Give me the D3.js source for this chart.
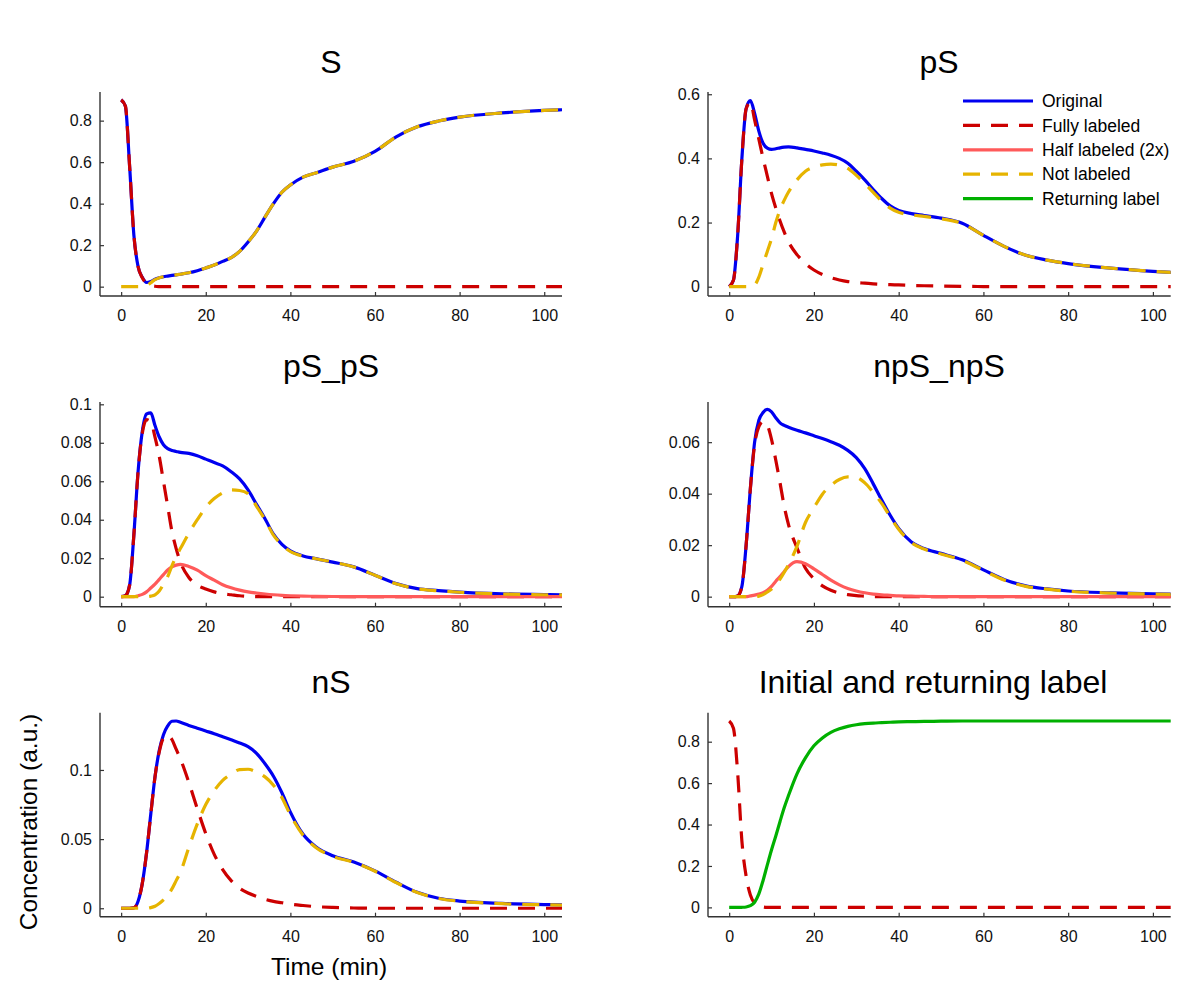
<!DOCTYPE html>
<html>
<head>
<meta charset="utf-8">
<script src="https://cdn.jsdelivr.net/npm/d3@7/dist/d3.min.js"></script>
<style>
  html, body { margin: 0; padding: 0; background: #fff; }
  svg { display: block; font-family: "Liberation Sans", Arial, Helvetica, sans-serif; }
</style>
</head>
<body>
<svg id="chart" width="1200" height="1008"></svg>
<script>
// ---------------- DATA ----------------
const T = [0,1,2,3,4,5,6,7,8,9,10,11,12,13,14,16,18,20,22,24,26,28,30,32,34,36,38,40,43,46,50,55,60,65,70,75,80,90,100,105];

const panelTitles = ["S", "pS", "pS_pS", "npS_npS", "nS", "Initial and returning label"];
const seriesNames = ["Original", "Fully labeled", "Half labeled (2x)", "Not labeled", "Returning label"];
const xTickValues = [0, 20, 40, 60, 80, 100];

const yTicksS = [0, 0.2, 0.4, 0.6, 0.8];
const yTicksPS = [0, 0.2, 0.4, 0.6];
const yTicksPSPS = [0, 0.02, 0.04, 0.06, 0.08, 0.1];
const yTicksNPS = [0, 0.02, 0.04, 0.06];
const yTicksNS = [0, 0.05, 0.1];
const yTicksInit = [0, 0.2, 0.4, 0.6, 0.8];

// S
const sOriginal = [0.9,0.87,0.58,0.25,0.097,0.045,0.02,0.025,0.036,0.043,0.048,0.051,0.054,0.057,0.06,0.067,0.077,0.09,0.104,0.122,0.14,0.17,0.215,0.268,0.335,0.4,0.455,0.49,0.528,0.548,0.576,0.604,0.652,0.722,0.77,0.798,0.817,0.837,0.849,0.853];
const sFull     = [0.9,0.87,0.58,0.25,0.097,0.043,0.016,0.006,0.002,0.0005,0,0,0,0,0,0,0,0,0,0,0,0,0,0,0,0,0,0,0,0,0,0,0,0,0,0,0,0,0,0];
const sNot      = [0,0,0,0,0,0.002,0.004,0.019,0.034,0.0425,0.048,0.051,0.054,0.057,0.06,0.067,0.077,0.09,0.104,0.122,0.14,0.17,0.215,0.268,0.335,0.4,0.455,0.49,0.528,0.548,0.576,0.604,0.652,0.722,0.77,0.798,0.817,0.837,0.849,0.853];

// pS
const psOriginal = [0,0.02,0.16,0.4,0.555,0.58,0.54,0.485,0.447,0.432,0.428,0.43,0.433,0.435,0.436,0.433,0.428,0.423,0.417,0.41,0.4,0.385,0.36,0.333,0.303,0.275,0.252,0.238,0.228,0.222,0.214,0.198,0.16,0.125,0.098,0.083,0.072,0.058,0.048,0.044];
const psFull     = [0,0.02,0.16,0.4,0.555,0.575,0.52,0.46,0.4,0.345,0.29,0.245,0.205,0.17,0.14,0.1,0.072,0.052,0.038,0.028,0.021,0.016,0.013,0.011,0.009,0.0075,0.0065,0.0055,0.004,0.003,0.002,0.001,0.0005,0,0,0,0,0,0,0];
const psNot      = [0,0,0,0,0,0,0.005,0.03,0.07,0.11,0.15,0.2,0.24,0.27,0.295,0.333,0.36,0.373,0.38,0.382,0.379,0.369,0.347,0.322,0.294,0.267,0.245,0.232,0.224,0.219,0.212,0.197,0.16,0.125,0.098,0.083,0.072,0.058,0.048,0.044];

// pS_pS
const pspsOriginal = [0,0.0005,0.006,0.032,0.065,0.086,0.095,0.0955,0.089,0.083,0.079,0.077,0.076,0.0755,0.075,0.0745,0.0733,0.0715,0.0697,0.068,0.065,0.0612,0.0555,0.048,0.0405,0.0325,0.0272,0.0238,0.0212,0.0198,0.018,0.0155,0.0112,0.0068,0.0042,0.0032,0.0024,0.0015,0.0011,0.001];
const pspsFull     = [0,0.0005,0.006,0.032,0.065,0.085,0.092,0.091,0.083,0.073,0.06,0.047,0.034,0.025,0.018,0.01,0.006,0.004,0.0025,0.0015,0.001,0.0005,0.0002,0,0,0,0,0,0,0,0,0,0,0,0,0,0,0,0,0];
const pspsHalf     = [0,0,0,0,0.0005,0.0012,0.0025,0.0045,0.0065,0.009,0.0115,0.0139,0.0155,0.0164,0.0168,0.0157,0.0138,0.0109,0.0086,0.0062,0.0046,0.0034,0.0025,0.0019,0.0014,0.001,0.0007,0.0005,0.0003,0.0002,0.0001,0,0,0,0,0,0,0,0,0];
const pspsNot      = [0,0,0,0,0,0,0,0.0003,0.001,0.003,0.0065,0.0104,0.016,0.021,0.025,0.033,0.04,0.0465,0.051,0.054,0.0555,0.0552,0.0535,0.047,0.04,0.032,0.027,0.0235,0.021,0.0197,0.018,0.0154,0.0111,0.0067,0.0041,0.0031,0.0023,0.0014,0.001,0.0009];

// npS_npS
const npsOriginal = [0,0,0.0003,0.004,0.02,0.042,0.06,0.0685,0.0715,0.0727,0.0718,0.0695,0.0675,0.0665,0.0658,0.0646,0.0636,0.0625,0.0614,0.0602,0.0588,0.0568,0.054,0.0497,0.0438,0.0375,0.0316,0.0265,0.0212,0.0187,0.0168,0.0143,0.0104,0.0066,0.0042,0.003,0.0022,0.0015,0.0011,0.001];
const npsFull     = [0,0,0.0003,0.004,0.02,0.042,0.059,0.066,0.068,0.0665,0.061,0.053,0.0442,0.035,0.028,0.019,0.011,0.007,0.0042,0.0025,0.0014,0.0008,0.0004,0.0002,0,0,0,0,0,0,0,0,0,0,0,0,0,0,0,0];
const npsHalf     = [0,0,0,0,0,0.0003,0.0006,0.001,0.0015,0.0025,0.004,0.006,0.0078,0.0098,0.0117,0.0136,0.0128,0.0108,0.0086,0.0064,0.0046,0.0032,0.0022,0.0015,0.001,0.0007,0.0005,0.0003,0.0002,0.0001,0,0,0,0,0,0,0,0,0,0];
const npsNot      = [0,0,0,0,0,0,0,0.0002,0.0008,0.0018,0.003,0.0047,0.0068,0.0095,0.0125,0.0195,0.0288,0.0345,0.0398,0.0432,0.0455,0.0465,0.0463,0.0442,0.0405,0.0362,0.031,0.0262,0.021,0.0185,0.0166,0.0141,0.0102,0.0064,0.004,0.0029,0.0021,0.0014,0.001,0.0009];

// nS
const nsOriginal = [0,0,0,0.0003,0.005,0.018,0.04,0.068,0.095,0.114,0.1255,0.1318,0.1352,0.1354,0.1345,0.1322,0.1302,0.1282,0.1262,0.124,0.1218,0.1195,0.1168,0.112,0.1045,0.0955,0.0835,0.0695,0.0535,0.0445,0.038,0.0335,0.027,0.0188,0.0115,0.0072,0.0052,0.0035,0.0027,0.0024];
const nsFull     = [0,0,0,0.0003,0.005,0.018,0.04,0.068,0.095,0.113,0.123,0.125,0.122,0.115,0.108,0.091,0.072,0.054,0.039,0.028,0.02,0.0145,0.011,0.0085,0.0065,0.005,0.004,0.003,0.002,0.0012,0.0006,0.0002,0,0,0,0,0,0,0,0];
const nsNot      = [0,0,0,0,0,0,0,0.0005,0.0015,0.0035,0.006,0.0095,0.014,0.02,0.026,0.044,0.061,0.075,0.085,0.0925,0.097,0.1003,0.1005,0.0985,0.095,0.089,0.08,0.0675,0.0528,0.044,0.0376,0.0332,0.0268,0.0186,0.0114,0.0071,0.0051,0.0033,0.0025,0.0022];

// Initial and returning label
const initFull  = [0.9,0.865,0.65,0.32,0.15,0.06,0.02,0.007,0.002,0,0,0,0,0,0,0,0,0,0,0,0,0,0,0,0,0,0,0,0,0,0,0,0,0,0,0,0,0,0,0];
const returning = [0,0,0,0.0005,0.002,0.008,0.025,0.065,0.13,0.205,0.278,0.345,0.415,0.482,0.54,0.645,0.722,0.78,0.818,0.845,0.862,0.874,0.882,0.887,0.89,0.892,0.894,0.896,0.897,0.898,0.899,0.9,0.9,0.9,0.9,0.9,0.9,0.9,0.9,0.9];

// ---------------- STYLE / LAYOUT ----------------
const styles = {
  original:  { color: "#0000f0", dash: null },
  full:      { color: "#cc0000", dash: "17,11" },
  half:      { color: "#ff5a5a", dash: null },
  not:       { color: "#e6b400", dash: "17,11" },
  returning: { color: "#00b000", dash: null }
};
const legendKeys = ["original", "full", "half", "not", "returning"];

const cols = [{ x0: 100, x1: 562, tc: 331 }, { x0: 708, x1: 1170.7, tc: 939 }];
const rows = [{ y0: 92, y1: 296, tb: 73 }, { y0: 402, y1: 606.7, tb: 377 }, { y0: 712.7, y1: 916.7, tb: 693 }];
const xDomain = [-5, 104.2];

const panels = [
  { col: 0, row: 0, yDom: [-0.045, 0.938], yTicks: yTicksS,
    series: [["original", sOriginal], ["full", sFull], ["not", sNot]] },
  { col: 1, row: 0, yDom: [-0.029, 0.607], yTicks: yTicksPS, legend: true,
    series: [["original", psOriginal], ["full", psFull], ["not", psNot]] },
  { col: 0, row: 1, yDom: [-0.0052, 0.1012], yTicks: yTicksPSPS,
    series: [["original", pspsOriginal], ["full", pspsFull], ["half", pspsHalf], ["not", pspsNot]] },
  { col: 1, row: 1, yDom: [-0.0039, 0.0756], yTicks: yTicksNPS,
    series: [["original", npsOriginal], ["full", npsFull], ["half", npsHalf], ["not", npsNot]] },
  { col: 0, row: 2, yDom: [-0.0061, 0.1414], yTicks: yTicksNS,
    series: [["original", nsOriginal], ["full", nsFull], ["not", nsNot]] },
  { col: 1, row: 2, yDom: [-0.045, 0.94], yTicks: yTicksInit, titleX: 933,
    series: [["full", initFull], ["returning", returning]] }
];

const svg = d3.select("#chart");
const fmt = v => String(v);

panels.forEach((p, i) => {
  const c = cols[p.col], r = rows[p.row];
  const x = d3.scaleLinear().domain(xDomain).range([c.x0, c.x1]);
  const y = d3.scaleLinear().domain(p.yDom).range([r.y1, r.y0]);
  const g = svg.append("g");

  const clipId = "clip" + i;
  svg.append("clipPath").attr("id", clipId)
    .append("rect").attr("x", c.x0).attr("y", r.y0 - 4)
    .attr("width", c.x1 - c.x0).attr("height", r.y1 - r.y0 + 4);

  // axes
  const xAxis = d3.axisBottom(x).tickValues(xTickValues).tickFormat(fmt)
    .tickSizeInner(-4).tickSizeOuter(0).tickPadding(13.5);
  const gx = g.append("g").attr("transform", `translate(0,${r.y1})`).call(xAxis);
  const yAxis = d3.axisLeft(y).tickValues(p.yTicks).tickFormat(fmt)
    .tickSizeInner(-4).tickSizeOuter(0).tickPadding(8);
  const gy = g.append("g").attr("transform", `translate(${c.x0},0)`).call(yAxis);
  [gx, gy].forEach(a => {
    a.select(".domain").remove();
    a.selectAll(".tick line").attr("stroke", "#333").attr("stroke-width", 1.2);
    a.selectAll(".tick text").attr("fill", "#111").style("font-size", "16px")
      .style("font-family", '"Liberation Sans", Arial, sans-serif');
  });
  g.append("line").attr("x1", c.x0).attr("x2", c.x1).attr("y1", r.y1).attr("y2", r.y1)
    .attr("stroke", "#333").attr("stroke-width", 1.4);
  g.append("line").attr("x1", c.x0).attr("x2", c.x0).attr("y1", r.y0).attr("y2", r.y1)
    .attr("stroke", "#333").attr("stroke-width", 1.4);

  // title
  g.append("text").attr("x", p.titleX || c.tc).attr("y", r.tb)
    .attr("text-anchor", "middle").style("font-size", "32px").attr("fill", "#000")
    .text(panelTitles[i]);

  // lines
  const line = d3.line().x((d, k) => x(T[k])).y(d => y(d)).curve(d3.curveMonotoneX);
  const lg = g.append("g").attr("clip-path", `url(#${clipId})`);
  p.series.forEach(([key, vals]) => {
    const st = styles[key];
    lg.append("path").datum(vals).attr("d", line)
      .attr("fill", "none").attr("stroke", st.color).attr("stroke-width", 3.2)
      .attr("stroke-dasharray", st.dash).attr("stroke-linejoin", "round");
  });

  if (p.legend) {
    const lgd = g.append("g");
    legendKeys.forEach((key, k) => {
      const yy = 101 + k * 24.4;
      const st = styles[key];
      lgd.append("line").attr("x1", 963).attr("x2", 1033).attr("y1", yy).attr("y2", yy)
        .attr("stroke", st.color).attr("stroke-width", 3.2).attr("stroke-dasharray", st.dash);
      lgd.append("text").attr("x", 1042).attr("y", yy).attr("dy", "0.35em")
        .style("font-size", "17.5px").attr("fill", "#000").text(seriesNames[k]);
    });
  }
});

// axis labels
svg.append("text").attr("transform", "translate(37,822) rotate(-90)")
  .attr("text-anchor", "middle").style("font-size", "24.5px").attr("fill", "#000")
  .text("Concentration (a.u.)");
svg.append("text").attr("x", 329).attr("y", 975)
  .attr("text-anchor", "middle").style("font-size", "24.5px").attr("fill", "#000")
  .text("Time (min)");
</script>
</body>
</html>
